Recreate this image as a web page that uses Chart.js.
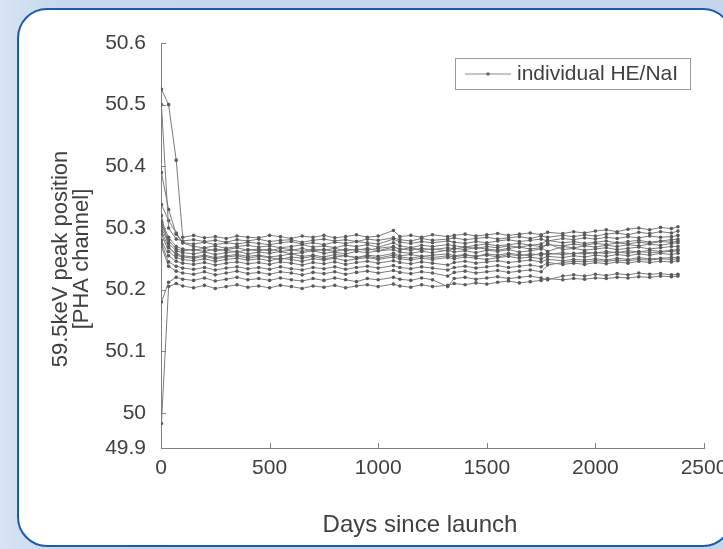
<!DOCTYPE html>
<html>
<head>
<meta charset="utf-8">
<script src="https://cdn.jsdelivr.net/npm/chart.js@4/dist/chart.umd.min.js"></script>
<style>
  html, body {
    margin: 0;
    padding: 0;
    width: 723px;
    height: 549px;
    overflow: hidden;
    background: linear-gradient(to right, #d7e4f3 0px, #c6d8ed 60px, #c4d6ec 100%);
  }
  #panel {
    position: absolute;
    left: 17px;
    top: 8px;
    width: 712px;
    height: 535px;
    background: #ffffff;
    border: 2px solid #1d5aa7;
    border-radius: 30px;
  }
  #peak-chart {
    position: absolute;
    left: 0;
    top: 0;
  }
</style>
</head>
<body>
<div id="panel"></div>
<canvas id="peak-chart" width="745" height="549"></canvas>
<script>
// Days since launch (shared by all detectors)
const days = [
  2, 35, 70, 100, 150, 200, 250, 300, 350, 400,
  450, 500, 550, 600, 650, 700, 750, 800, 850, 900,
  950, 1000, 1070, 1100, 1150, 1200, 1250, 1320, 1350, 1400,
  1450, 1500, 1550, 1600, 1650, 1700, 1750, 1780, 1850, 1900,
  1950, 2000, 2050, 2100, 2150, 2200, 2250, 2300, 2350, 2380,
];

// 59.5 keV peak position per HE/NaI detector [PHA channel]
const det01 = [
  50.525, 50.500, 50.410, 50.285, 50.288, 50.284, 50.286, 50.283, 50.287, 50.285,
  50.284, 50.288, 50.286, 50.283, 50.287, 50.285, 50.288, 50.284, 50.286, 50.289,
  50.285, 50.287, 50.296, 50.286, 50.288, 50.285, 50.289, 50.286, 50.288, 50.290,
  50.287, 50.289, 50.291, 50.288, 50.290, 50.292, 50.289, 50.293, 50.291, 50.294,
  50.292, 50.295, 50.297, 50.294, 50.298, 50.300, 50.297, 50.301, 50.299, 50.302,
];
const det02 = [
  50.500, 50.300, 50.282, 50.279, 50.281, 50.278, 50.280, 50.277, 50.281, 50.279,
  50.282, 50.278, 50.280, 50.281, 50.277, 50.280, 50.282, 50.279, 50.281, 50.278,
  50.282, 50.280, 50.284, 50.281, 50.279, 50.283, 50.280, 50.282, 50.284, 50.281,
  50.283, 50.285, 50.282, 50.284, 50.286, 50.283, 50.287, 50.285, 50.288, 50.286,
  50.289, 50.287, 50.290, 50.292, 50.289, 50.293, 50.291, 50.294, 50.292, 50.295,
];
const det03 = [
  50.390, 50.330, 50.290, 50.276, 50.274, 50.277, 50.273, 50.276, 50.274, 50.277,
  50.275, 50.273, 50.276, 50.278, 50.274, 50.276, 50.273, 50.277, 50.275, 50.278,
  50.276, 50.274, 50.282, 50.277, 50.275, 50.278, 50.276, 50.279, 50.277, 50.275,
  50.278, 50.276, 50.279, 50.281, 50.278, 50.280, 50.282, 50.279, 50.283, 50.281,
  50.284, 50.282, 50.285, 50.283, 50.286, 50.284, 50.287, 50.285, 50.286, 50.288,
];
const det04 = [
  50.338, 50.312, 50.292, 50.276, 50.270, 50.268, 50.271, 50.267, 50.270, 50.272,
  50.269, 50.271, 50.268, 50.270, 50.273, 50.269, 50.271, 50.268, 50.272, 50.270,
  50.273, 50.269, 50.276, 50.271, 50.268, 50.272, 50.270, 50.273, 50.271, 50.269,
  50.272, 50.274, 50.271, 50.273, 50.275, 50.272, 50.274, 50.280, 50.276, 50.278,
  50.275, 50.277, 50.279, 50.276, 50.278, 50.280, 50.277, 50.279, 50.281, 50.282,
];
const det05 = [
  50.310, 50.285, 50.270, 50.266, 50.264, 50.267, 50.263, 50.265, 50.268, 50.264,
  50.266, 50.263, 50.267, 50.265, 50.262, 50.266, 50.264, 50.267, 50.263, 50.266,
  50.264, 50.267, 50.270, 50.265, 50.268, 50.264, 50.266, 50.263, 50.267, 50.265,
  50.268, 50.266, 50.264, 50.267, 50.269, 50.266, 50.268, 50.262, 50.270, 50.268,
  50.271, 50.269, 50.272, 50.270, 50.273, 50.271, 50.274, 50.272, 50.275, 50.276,
];
const det06 = [
  50.300, 50.275, 50.263, 50.260, 50.258, 50.261, 50.257, 50.260, 50.262, 50.258,
  50.261, 50.259, 50.262, 50.258, 50.260, 50.263, 50.259, 50.261, 50.258, 50.262,
  50.260, 50.263, 50.265, 50.261, 50.259, 50.262, 50.260, 50.264, 50.261, 50.263,
  50.260, 50.264, 50.262, 50.265, 50.261, 50.263, 50.266, 50.275, 50.265, 50.267,
  50.264, 50.266, 50.268, 50.265, 50.267, 50.269, 50.266, 50.268, 50.270, 50.270,
];
const det07 = [
  50.295, 50.268, 50.258, 50.255, 50.253, 50.256, 50.252, 50.255, 50.257, 50.254,
  50.256, 50.253, 50.255, 50.258, 50.254, 50.256, 50.253, 50.257, 50.255, 50.252,
  50.256, 50.254, 50.259, 50.255, 50.257, 50.254, 50.256, 50.258, 50.255, 50.257,
  50.254, 50.258, 50.256, 50.259, 50.257, 50.255, 50.259, 50.257, 50.260, 50.258,
  50.261, 50.259, 50.262, 50.260, 50.263, 50.261, 50.264, 50.262, 50.264, 50.265,
];
const det08 = [
  50.290, 50.262, 50.252, 50.249, 50.247, 50.250, 50.246, 50.249, 50.251, 50.248,
  50.250, 50.247, 50.251, 50.249, 50.246, 50.250, 50.248, 50.251, 50.247, 50.250,
  50.252, 50.249, 50.253, 50.250, 50.248, 50.251, 50.249, 50.252, 50.250, 50.253,
  50.251, 50.249, 50.252, 50.254, 50.251, 50.253, 50.250, 50.254, 50.252, 50.255,
  50.253, 50.256, 50.254, 50.257, 50.255, 50.258, 50.256, 50.259, 50.257, 50.259,
];
const det09 = [
  50.280, 50.255, 50.246, 50.243, 50.241, 50.244, 50.240, 50.243, 50.245, 50.242,
  50.244, 50.241, 50.245, 50.243, 50.240, 50.244, 50.242, 50.245, 50.241, 50.244,
  50.246, 50.243, 50.247, 50.244, 50.242, 50.245, 50.243, 50.240, 50.244, 50.246,
  50.243, 50.245, 50.247, 50.244, 50.246, 50.248, 50.245, 50.249, 50.247, 50.249,
  50.248, 50.250, 50.248, 50.251, 50.249, 50.252, 50.250, 50.251, 50.252, 50.252,
];
const det10 = [
  50.275, 50.245, 50.238, 50.235, 50.233, 50.236, 50.232, 50.235, 50.237, 50.234,
  50.236, 50.233, 50.237, 50.234, 50.232, 50.236, 50.234, 50.237, 50.233, 50.236,
  50.238, 50.235, 50.239, 50.236, 50.234, 50.237, 50.235, 50.232, 50.236, 50.238,
  50.235, 50.237, 50.239, 50.236, 50.238, 50.240, 50.237, 50.244, 50.241, 50.243,
  50.241, 50.244, 50.242, 50.245, 50.243, 50.246, 50.244, 50.246, 50.245, 50.247,
];
const det11 = [
  50.270, 50.238, 50.230, 50.227, 50.225, 50.229, 50.224, 50.227, 50.230, 50.226,
  50.228, 50.225, 50.229, 50.227, 50.224, 50.228, 50.226, 50.229, 50.225, 50.228,
  50.230, 50.227, 50.231, 50.228, 50.226, 50.229, 50.227, 50.222, 50.228, 50.230,
  50.227, 50.229, 50.231, 50.228, 50.230, 50.232, 50.229, 50.240, 50.244, 50.246,
  50.245, 50.247, 50.246, 50.248, 50.247, 50.249, 50.248, 50.250, 50.249, 50.250,
];
const det12 = [
  50.180, 50.212, 50.220, 50.217, 50.215, 50.219, 50.214, 50.217, 50.220, 50.216,
  50.218, 50.215, 50.219, 50.216, 50.214, 50.218, 50.215, 50.219, 50.216, 50.213,
  50.218, 50.216, 50.220, 50.217, 50.215, 50.219, 50.216, 50.205, 50.218, 50.220,
  50.217, 50.219, 50.221, 50.218, 50.220, 50.222, 50.219, 50.216, 50.222, 50.224,
  50.222, 50.225, 50.223, 50.226, 50.224, 50.227, 50.225, 50.226, 50.224, 50.225,
];
const det13 = [
  49.970, 50.205, 50.210, 50.206, 50.203, 50.207, 50.202, 50.205, 50.208, 50.204,
  50.206, 50.203, 50.207, 50.205, 50.202, 50.206, 50.204, 50.207, 50.203, 50.206,
  50.208, 50.205, 50.209, 50.206, 50.204, 50.208, 50.205, 50.207, 50.210, 50.208,
  50.211, 50.209, 50.212, 50.214, 50.211, 50.213, 50.215, 50.218, 50.216, 50.218,
  50.217, 50.219, 50.218, 50.220, 50.219, 50.221, 50.220, 50.222, 50.221, 50.222,
];
const det14 = [
  50.305, 50.280, 50.266, 50.263, 50.265, 50.262, 50.266, 50.264, 50.261, 50.265,
  50.263, 50.266, 50.262, 50.264, 50.267, 50.263, 50.265, 50.262, 50.266, 50.264,
  50.267, 50.263, 50.269, 50.266, 50.264, 50.267, 50.265, 50.268, 50.266, 50.269,
  50.267, 50.270, 50.268, 50.271, 50.269, 50.272, 50.270, 50.273, 50.271, 50.274,
  50.272, 50.275, 50.273, 50.276, 50.274, 50.277, 50.275, 50.278, 50.277, 50.279,
];
const det15 = [
  50.320, 50.270, 50.256, 50.253, 50.251, 50.254, 50.250, 50.253, 50.255, 50.251,
  50.254, 50.252, 50.249, 50.253, 50.251, 50.254, 50.250, 50.253, 50.255, 50.252,
  50.254, 50.251, 50.256, 50.253, 50.251, 50.254, 50.252, 50.255, 50.253, 50.256,
  50.254, 50.256, 50.253, 50.257, 50.255, 50.258, 50.256, 50.259, 50.257, 50.259,
  50.258, 50.260, 50.259, 50.261, 50.259, 50.262, 50.260, 50.261, 50.262, 50.263,
];

const detectors = [
  det01, det02, det03, det04, det05, det06, det07, det08,
  det09, det10, det11, det12, det13, det14, det15,
];

const xTicks = [0, 500, 1000, 1500, 2000, 2500];
const yTicks = [49.9, 50.0, 50.1, 50.2, 50.3, 50.4, 50.5, 50.6];
const legendLabel = "individual HE/NaI";
const xTitle = "Days since launch";
const yTitle = ["59.5keV peak position", "[PHA channel]"];

const FONT = "'Liberation Sans', Arial, sans-serif";
const TEXT_COLOR = "#404040";
const AXIS_COLOR = "#808080";

/**
 * Linear axis whose lowest interval (49.9 - 50.0) is squeezed, as in the original figure
 */
class SquashedScale extends Chart.LinearScale {
  static id = "squashed";

  kneePixel() {
    return this.top + (this.bottom - this.top) * 0.9136;
  }

  getPixelForValue(value) {
    const knee = 50.0;
    const kneePx = this.kneePixel();
    if (value >= knee) {
      return this.top + ((this.max - value) / (this.max - knee)) * (kneePx - this.top);
    }
    return kneePx + ((knee - value) / (knee - this.min)) * (this.bottom - kneePx);
  }

  getValueForPixel(pixel) {
    const knee = 50.0;
    const kneePx = this.kneePixel();
    if (pixel <= kneePx) {
      return this.max - ((pixel - this.top) / (kneePx - this.top)) * (this.max - knee);
    }
    return knee - ((pixel - kneePx) / (this.bottom - kneePx)) * (knee - this.min);
  }
}
Chart.register(SquashedScale);

/**
 * Axis titles, inward tick marks and the boxed legend
 */
const framePlugin = {
  id: "frame",
  afterDraw(chart) {
    const ctx = chart.ctx;
    const xs = chart.scales.x;
    const ys = chart.scales.y;
    const area = chart.chartArea;

    ctx.save();
    ctx.strokeStyle = AXIS_COLOR;
    ctx.lineWidth = 1;
    ctx.beginPath();
    ys.ticks.forEach((t, i) => {
      const py = Math.round(ys.getPixelForTick(i)) + 0.5;
      ctx.moveTo(area.left, py);
      ctx.lineTo(area.left + 5, py);
    });
    xs.ticks.forEach((t, i) => {
      const px = Math.round(xs.getPixelForTick(i)) + 0.5;
      ctx.moveTo(px, area.bottom);
      ctx.lineTo(px, area.bottom - 5);
    });
    ctx.stroke();

    // axis titles
    ctx.fillStyle = TEXT_COLOR;
    ctx.textAlign = "center";
    ctx.textBaseline = "middle";
    ctx.font = "24px " + FONT;
    ctx.fillText(xTitle, 420, 525);
    ctx.save();
    ctx.translate(61, 259);
    ctx.rotate(-Math.PI / 2);
    ctx.font = "22px " + FONT;
    yTitle.forEach((line, i) => ctx.fillText(line, 0, i * 21));
    ctx.restore();

    // legend box
    const lx = 455, ly = 58, lw = 235, lh = 31;
    ctx.strokeStyle = "#9a9a9a";
    ctx.strokeRect(lx + 0.5, ly + 0.5, lw, lh);
    ctx.strokeStyle = "#8c8c8c";
    ctx.beginPath();
    ctx.moveTo(lx + 10, ly + lh / 2 + 0.5);
    ctx.lineTo(lx + 56, ly + lh / 2 + 0.5);
    ctx.stroke();
    ctx.fillStyle = "#666666";
    ctx.beginPath();
    ctx.arc(lx + 33, ly + lh / 2 + 0.5, 1.8, 0, Math.PI * 2);
    ctx.fill();
    ctx.fillStyle = TEXT_COLOR;
    ctx.font = "21px " + FONT;
    ctx.textAlign = "left";
    ctx.fillText(legendLabel, lx + 62, ly + lh / 2 + 1);
    ctx.restore();
  },
};

function initializeChart() {
  const ctx = document.getElementById("peak-chart");
  if (!ctx) return;

  const datasets = detectors.map((values, k) => ({
    label: k === 0 ? legendLabel : "HE/NaI " + (k + 1),
    data: days.map((d, i) => ({ x: d, y: values[i] })),
    borderColor: "#7c7c7c",
    borderWidth: 1,
    pointRadius: 1.8,
    pointBackgroundColor: "#5a5a5a",
    pointBorderWidth: 0,
    tension: 0,
  }));

  new Chart(ctx, {
    type: "line",
    data: { datasets },
    options: {
      responsive: false,
      animation: false,
      layout: {
        padding: { left: 0, top: 43, right: 41, bottom: 0 },
      },
      plugins: {
        legend: { display: false },
        tooltip: { enabled: false },
      },
      scales: {
        x: {
          type: "linear",
          min: 0,
          max: 2500,
          afterBuildTicks: (axis) => {
            axis.ticks = xTicks.map((v) => ({ value: v }));
          },
          afterFit: (axis) => {
            axis.height = 101;
          },
          grid: { display: false, drawTicks: false },
          border: { display: true, color: AXIS_COLOR, width: 1 },
          ticks: {
            padding: 8,
            color: TEXT_COLOR,
            font: { family: FONT, size: 21 },
            maxRotation: 0,
            callback: (v) => String(v),
          },
        },
        y: {
          type: "squashed",
          min: 49.9,
          max: 50.6,
          afterBuildTicks: (axis) => {
            axis.ticks = yTicks.map((v) => ({ value: v }));
          },
          afterFit: (axis) => {
            axis.width = 161;
          },
          grid: { display: false, drawTicks: false },
          border: { display: true, color: AXIS_COLOR, width: 1 },
          ticks: {
            padding: 15,
            color: TEXT_COLOR,
            font: { family: FONT, size: 21 },
            callback: (v) => String(Math.round(v * 10) / 10),
          },
        },
      },
    },
    plugins: [framePlugin],
  });
}

initializeChart();
</script>
</body>
</html>
